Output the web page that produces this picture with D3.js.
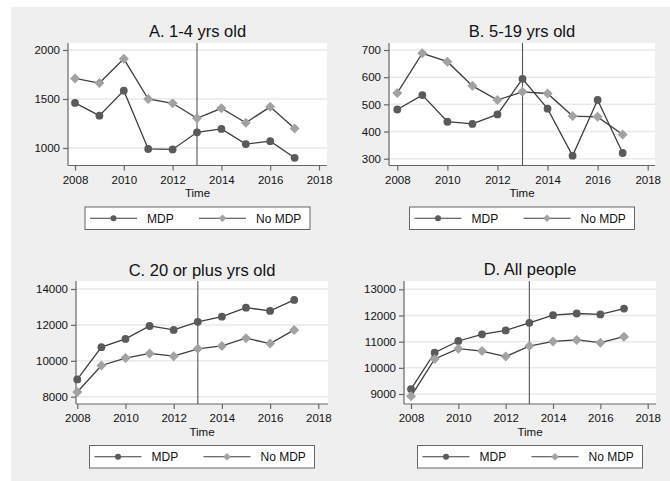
<!DOCTYPE html>
<html>
<head>
<meta charset="utf-8">
<script src="https://cdn.jsdelivr.net/npm/d3@7"></script>
<style>
  body { margin: 0; background: #fff; }
  text { font-family: "Liberation Sans", Arial, Helvetica, sans-serif; fill: #111; }
</style>
</head>
<body>
<svg id="chart" width="670" height="481"></svg>
<script>
// years on the x axis
const years = [2008, 2009, 2010, 2011, 2012, 2013, 2014, 2015, 2016, 2017];
const xTicks = [2008, 2010, 2012, 2014, 2016, 2018];
const cutYear = 2013;
const seriesNames = ['MDP', 'No MDP'];

// A. 1-4 yrs old
const mdpA   = [1460, 1330, 1585, 990, 985, 1160, 1195, 1040, 1070, 900];
const noMdpA = [1710, 1663, 1910, 1500, 1456, 1303, 1405, 1258, 1420, 1200];
const yTicksA = [1000, 1500, 2000];

// B. 5-19 yrs old
const mdpB   = [481, 534, 436, 428, 463, 594, 484, 311, 516, 321];
const noMdpB = [542, 688, 657, 568, 516, 546, 540, 457, 454, 389];
const yTicksB = [300, 400, 500, 600, 700];

// C. 20 or plus yrs old
const mdpC   = [8960, 10760, 11220, 11940, 11720, 12170, 12460, 12960, 12780, 13390];
const noMdpC = [8260, 9740, 10150, 10410, 10260, 10670, 10830, 11260, 10960, 11720];
const yTicksC = [8000, 10000, 12000, 14000];

// D. All people
const mdpD   = [9190, 10580, 11025, 11280, 11430, 11720, 12010, 12075, 12040, 12265];
const noMdpD = [8910, 10340, 10730, 10640, 10430, 10830, 11010, 11065, 10960, 11190];
const yTicksD = [9000, 10000, 11000, 12000, 13000];

const titles = ['A. 1-4 yrs old', 'B. 5-19 yrs old', 'C. 20 or plus yrs old', 'D. All people'];

const LINE_COLOR = '#3d3d3d';
const MDP_COLOR = '#5a5a5a';
const NOMDP_COLOR = '#a2a2a2';
const AXIS_COLOR = '#666';
const GRID_COLOR = '#e9e9e9';

const svg = d3.select('#chart');

// grey graph region
svg.append('rect')
  .attr('x', 11).attr('y', 7)
  .attr('width', 659).attr('height', 474)
  .attr('fill', '#efefef');

// panel layout (pixels)
const panels = [
  { title: titles[0], mdp: mdpA, nomdp: noMdpA, yTicks: yTicksA,
    box: { l: 68, r: 327, t: 43, b: 165.5 }, xr: [75, 319], yr: [148, 50], titleY: 37 },
  { title: titles[1], mdp: mdpB, nomdp: noMdpB, yTicks: yTicksB,
    box: { l: 389, r: 655, t: 43, b: 165.5 }, xr: [397.3, 647.7], yr: [158.7, 50], titleY: 37 },
  { title: titles[2], mdp: mdpC, nomdp: noMdpC, yTicks: yTicksC,
    box: { l: 76, r: 328, t: 281, b: 404 }, xr: [77.3, 318.3], yr: [396.7, 289], titleY: 275.5 },
  { title: titles[3], mdp: mdpD, nomdp: noMdpD, yTicks: yTicksD,
    box: { l: 404, r: 656, t: 281, b: 404 }, xr: [411, 647.7], yr: [394, 289.3], titleY: 274.5 }
];

const diamond = d3.symbol().type(d3.symbolSquare);

function drawDiamond(g, cx, cy, half, fill) {
  g.append('path')
    .attr('d', `M${cx},${cy - half}L${cx + half},${cy}L${cx},${cy + half}L${cx - half},${cy}Z`)
    .attr('fill', fill);
}

function drawPanel(p) {
  const g = svg.append('g');
  const b = p.box;

  const x = d3.scaleLinear().domain([2008, 2018]).range(p.xr);
  const yMin = d3.min(p.yTicks), yMax = d3.max(p.yTicks);
  const y = d3.scaleLinear().domain([yMin, yMax]).range(p.yr);

  // plot area
  g.append('rect')
    .attr('x', b.l).attr('y', b.t)
    .attr('width', b.r - b.l).attr('height', b.b - b.t)
    .attr('fill', '#fff');

  // grid lines
  g.selectAll('.grid')
    .data(p.yTicks)
    .enter()
    .append('line')
    .attr('x1', b.l).attr('x2', b.r)
    .attr('y1', d => y(d)).attr('y2', d => y(d))
    .attr('stroke', GRID_COLOR)
    .attr('stroke-width', 1.5);

  // title
  g.append('text')
    .attr('x', (b.l + b.r) / 2)
    .attr('y', p.titleY)
    .attr('text-anchor', 'middle')
    .style('font-size', '16.5px')
    .text(p.title);

  // y axis
  const yAxis = g.append('g')
    .attr('transform', `translate(${b.l},0)`)
    .call(d3.axisLeft(y).tickValues(p.yTicks).tickSize(5).tickPadding(3).tickFormat(d3.format('d')));
  yAxis.select('.domain').attr('d', `M0,${b.t}V${b.b}`);

  // x axis
  const xAxis = g.append('g')
    .attr('transform', `translate(0,${b.b})`)
    .call(d3.axisBottom(x).tickValues(xTicks).tickSize(5).tickPadding(5).tickFormat(d3.format('d')));
  xAxis.select('.domain').attr('d', `M${b.l},0H${b.r}`);

  [yAxis, xAxis].forEach(ax => {
    ax.select('.domain').attr('stroke', AXIS_COLOR).attr('stroke-width', 1.2);
    ax.selectAll('.tick line').attr('stroke', AXIS_COLOR).attr('stroke-width', 1.2);
    ax.selectAll('.tick text')
      .attr('fill', '#111')
      .style('font-size', '11.5px')
      .style('font-family', '"Liberation Sans", Arial, Helvetica, sans-serif');
  });

  g.append('text')
    .attr('x', (b.l + b.r) / 2)
    .attr('y', b.b + 31.5)
    .attr('text-anchor', 'middle')
    .style('font-size', '11.5px')
    .text('Time');

  // vertical reference line
  g.append('line')
    .attr('x1', x(cutYear)).attr('x2', x(cutYear))
    .attr('y1', b.t).attr('y2', b.b)
    .attr('stroke', '#555')
    .attr('stroke-width', 1.1);

  const line = d3.line()
    .x((d, i) => x(years[i]))
    .y(d => y(d));

  g.append('path')
    .datum(p.mdp)
    .attr('d', line)
    .attr('fill', 'none')
    .attr('stroke', LINE_COLOR)
    .attr('stroke-width', 1.3);

  g.append('path')
    .datum(p.nomdp)
    .attr('d', line)
    .attr('fill', 'none')
    .attr('stroke', LINE_COLOR)
    .attr('stroke-width', 1.3);

  g.selectAll('.mdp')
    .data(p.mdp)
    .enter()
    .append('circle')
    .attr('cx', (d, i) => x(years[i]))
    .attr('cy', d => y(d))
    .attr('r', 3.9)
    .attr('fill', MDP_COLOR);

  p.nomdp.forEach((d, i) => drawDiamond(g, x(years[i]), y(d), 5, NOMDP_COLOR));

  // legend
  const lw = 225, lh = 22.5;
  const lx = (b.l + b.r) / 2 - lw / 2;
  const ly = b.b + 41.5;
  const leg = g.append('g').attr('transform', `translate(${lx},${ly})`);
  leg.append('rect')
    .attr('width', lw).attr('height', lh)
    .attr('fill', '#fff')
    .attr('stroke', '#666')
    .attr('stroke-width', 1);

  const cy = lh / 2;
  [0, 1].forEach(k => {
    const off = k * 109;
    leg.append('line')
      .attr('x1', 5 + off).attr('x2', 52 + off)
      .attr('y1', cy).attr('y2', cy)
      .attr('stroke', LINE_COLOR)
      .attr('stroke-width', 1.2);
    if (k === 0) {
      leg.append('circle').attr('cx', 28.5).attr('cy', cy).attr('r', 3).attr('fill', MDP_COLOR);
    } else {
      drawDiamond(leg, 28.5 + off, cy, 3.8, NOMDP_COLOR);
    }
    leg.append('text')
      .attr('x', 62 + off)
      .attr('y', cy + 4.3)
      .style('font-size', '12px')
      .text(seriesNames[k]);
  });
}

panels.forEach(drawPanel);
</script>
</body>
</html>
